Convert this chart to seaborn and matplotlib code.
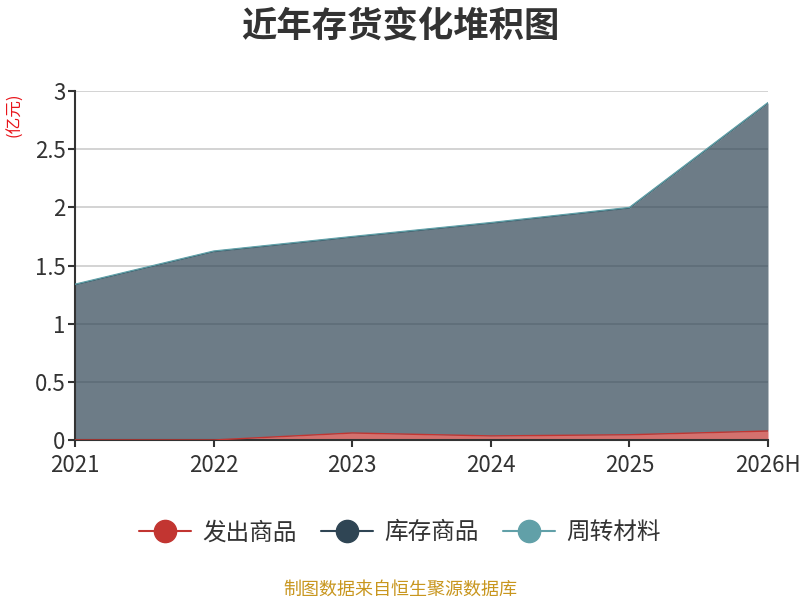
import matplotlib
matplotlib.use("Agg")
import matplotlib.pyplot as plt
from matplotlib.lines import Line2D
import seaborn as sns
import numpy as np
import pandas as pd

years = ["2021", "2022", "2023", "2024", "2025", "2026H"]
fachu = [0.0, 0.0, 0.06, 0.035, 0.045, 0.077]          # 发出商品
kucun = [1.335, 1.62, 1.685, 1.83, 1.95, 2.82]          # 库存商品
zhouzhuan = [0.005, 0.005, 0.005, 0.005, 0.005, 0.005]  # 周转材料
series_names = ["发出商品", "库存商品", "周转材料"]
colors = ["#c23531", "#2f4554", "#61a0a8"]

sns.set_theme(style="white")
plt.rcParams['font.family'] = ['Noto Sans CJK SC', 'DejaVu Sans']

fig = plt.figure(figsize=(8, 6), dpi=100)
ax = fig.add_axes([0.094, 0.2667, 0.866, 0.5813])

x = np.arange(len(years))
vals = [np.array(fachu), np.array(kucun), np.array(zhouzhuan)]
base = np.zeros(len(years))
for v, c, n in zip(vals, colors, series_names):
    top = base + v
    ax.fill_between(x, base, top, color=c, alpha=0.7, linewidth=0, zorder=2)
    df = pd.DataFrame({"x": x, "y": top})
    sns.lineplot(data=df, x="x", y="y", ax=ax, color=c, linewidth=1, zorder=3)
    base = top

ax.set_xlim(0, len(years) - 1)
ax.set_ylim(0, 3)
ax.set_yticks([0, 0.5, 1, 1.5, 2, 2.5, 3])
ax.set_yticklabels(["0", "0.5", "1", "1.5", "2", "2.5", "3"])
ax.set_xticks(x)
ax.set_xticklabels(years)
ax.set_xlabel("")
ax.set_ylabel("")
ax.yaxis.grid(True, color="#cccccc", linewidth=1.2, zorder=1)
ax.xaxis.grid(False)
ax.set_axisbelow(True)
for s in ["top", "right"]:
    ax.spines[s].set_visible(False)
for s in ["left", "bottom"]:
    ax.spines[s].set_color("#333333")
    ax.spines[s].set_linewidth(1.5)
ax.tick_params(axis="both", which="both", direction="out", length=5, width=1.5,
               color="#333333", labelcolor="#333333", labelsize=16, pad=2,
               left=True, bottom=True)
ax.tick_params(axis="x", pad=5)

fig.text(0.5, 0.955, "近年存货变化堆积图", ha="center", va="center",
         fontsize=25.5, fontweight="bold", color="#333333")
fig.text(0.018, 0.808, "(亿元)", ha="center", va="center", rotation=90,
         fontsize=12, color="#e8141a")

handles = [Line2D([0], [0], color=c, marker="o", markersize=16, linewidth=1.5,
                  markerfacecolor=c, markeredgecolor=c) for c in colors]
fig.legend(handles, series_names, loc="center", bbox_to_anchor=(0.5, 0.112),
           ncol=3, frameon=False, fontsize=17, handlelength=2.2,
           columnspacing=1.0, handletextpad=0.5, labelcolor="#333333")

fig.text(0.5, 0.017, "制图数据来自恒生聚源数据库", ha="center", va="center",
         fontsize=13, color="#c8961e")

fig.savefig("out.png", dpi=100)
